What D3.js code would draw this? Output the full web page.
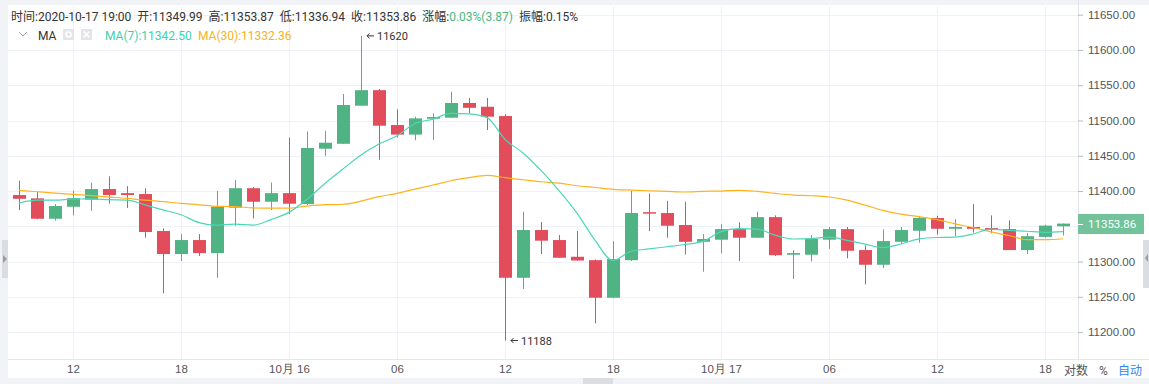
<!DOCTYPE html>
<html>
<head>
<meta charset="utf-8">
<script src="https://cdn.jsdelivr.net/npm/d3@7"></script>
<style>
  body { margin: 0; background: #fff; overflow: hidden; }
  svg { display: block; font-family: Roboto, "Noto Sans CJK SC", sans-serif; }
</style>
</head>
<body>
<script>
const width = 1149;
const height = 384;

// hourly candles, 2020-10-15 09:00 .. 2020-10-17 19:00
const startTime = new Date(2020, 9, 15, 9);
const opens = [11394.3, 11389.6, 11360.7, 11377.7, 11387.7, 11402.8, 11397, 11395.7, 11343.3, 11310.7,
  11330.5, 11312, 11376.4, 11404, 11384.8, 11397, 11381.6, 11460, 11467, 11521,
  11543, 11493.6, 11480, 11502.5, 11504, 11524.8, 11519.5, 11506.3, 11277, 11344.7,
  11330.5, 11306.8, 11302, 11248.7, 11302, 11370, 11368.8, 11351.8, 11328, 11331,
  11346, 11333.8, 11363, 11309.7, 11309.7, 11331, 11346, 11316.3, 11295.5, 11328,
  11343.7, 11361.7, 11346.5, 11349, 11347.5, 11346, 11316.3, 11335, 11349.99];
const highs = [11414.6, 11399, 11381.6, 11400.4, 11411.8, 11420.8, 11407, 11403.8, 11347, 11339,
  11339, 11400, 11415.6, 11405.7, 11412, 11476, 11484.6, 11485.5, 11537.6, 11620,
  11544.6, 11515.8, 11505.4, 11510, 11540.8, 11532, 11532, 11509, 11370.6, 11356,
  11337.6, 11343.3, 11303, 11329, 11400.4, 11396.6, 11386, 11384.8, 11339, 11353,
  11355.6, 11370.6, 11365.5, 11316.3, 11337.6, 11349, 11349, 11323, 11345.7, 11349,
  11364.5, 11365, 11360, 11381.6, 11365.5, 11358.4, 11340.4, 11352, 11353.87];
const lows = [11373, 11360, 11358, 11365.5, 11372, 11382, 11376, 11333.8, 11255, 11300.7,
  11308, 11277, 11350.8, 11361.3, 11373, 11367.4, 11380, 11450, 11467, 11521,
  11444.4, 11476, 11472, 11472, 11504, 11510, 11486.5, 11188, 11261, 11310.7,
  11305.4, 11301.2, 11212.4, 11248, 11300.7, 11343.3, 11333.8, 11310, 11285.6, 11311.6,
  11300.7, 11333.8, 11308, 11275.2, 11300, 11318, 11304.6, 11267.7, 11291, 11324.8,
  11326.7, 11338, 11335.8, 11341, 11340, 11316.3, 11310.7, 11334, 11336.94];
const closes = [11389, 11360.7, 11378.7, 11390, 11402.8, 11394.3, 11394.3, 11341.9, 11310.7, 11330.5,
  11312, 11377.7, 11404, 11384.8, 11397, 11382, 11461, 11468.5, 11522, 11543,
  11492.6, 11480, 11503, 11505, 11524.8, 11518, 11505.4, 11277, 11344.7, 11329.6,
  11305.4, 11301.5, 11248.7, 11303.6, 11368.8, 11368, 11350.8, 11328, 11332, 11346,
  11333.8, 11363, 11309, 11312, 11332, 11346, 11315.3, 11295.5, 11329, 11344.7,
  11362, 11346.5, 11349, 11346.5, 11344.7, 11316.3, 11336, 11351, 11353.86];

// MA(7) before enough candles are in view
const ma7Head = [11383, 11387, 11387, 11388.7, 11389, 11387.7];
// MA(30)
const ma30 = [11401, 11399, 11397, 11395.3, 11393.5, 11391.5, 11389.5, 11387, 11385, 11382.5,
  11380.5, 11378.3, 11378, 11376, 11375.7, 11375.7, 11378.7, 11380.6, 11381.1, 11385.8,
  11392, 11396.7, 11402.8, 11408.5, 11414.6, 11418.9, 11422.2, 11418.9, 11416, 11413.2,
  11411.3, 11407.5, 11405, 11402.4, 11401.4, 11400.4, 11399.5, 11398.6, 11399.5, 11400,
  11401, 11399.5, 11396.7, 11394.3, 11393.3, 11391.5, 11387, 11380, 11372.5, 11367.2,
  11363.6, 11359.4, 11353.5, 11348.3, 11342, 11337, 11331, 11331, 11332.36];

const priceTicks = [11200, 11250, 11300, 11350, 11400, 11450, 11500, 11550, 11600, 11650];
const timeTicks = [
  [new Date(2020, 9, 15, 12), "12"], [new Date(2020, 9, 15, 18), "18"],
  [new Date(2020, 9, 16, 0), "10月 16"], [new Date(2020, 9, 16, 6), "06"],
  [new Date(2020, 9, 16, 12), "12"], [new Date(2020, 9, 16, 18), "18"],
  [new Date(2020, 9, 17, 0), "10月 17"], [new Date(2020, 9, 17, 6), "06"],
  [new Date(2020, 9, 17, 12), "12"], [new Date(2020, 9, 17, 18), "18"]
];

const green = "#4fb383";
const red = "#e34c5b";
const tealLine = "#4dd6b6";
const orangeLine = "#fdb320";

const data = opens.map((o, i) => ({
  t: d3.timeHour.offset(startTime, i),
  o: o, h: highs[i], l: lows[i], c: closes[i]
}));
data.forEach((d, i) => {
  d.ma7 = i < 6 ? ma7Head[i] : d3.mean(closes.slice(i - 6, i + 1));
  d.ma30 = ma30[i];
});
const last = data[data.length - 1];

const plot = { left: 8, right: 1078, top: 6, bottom: 359 };

const x = d3.scaleTime()
  .domain([startTime, last.t])
  .range([19, 1063]);
const y = d3.scaleLinear()
  .domain([11200, 11650])
  .range([332.1, 14.7]);

const svg = d3.select("body").append("svg")
  .attr("width", width)
  .attr("height", height);

// frame bits
svg.append("rect").attr("x", 0).attr("y", 0).attr("width", width).attr("height", 5).attr("fill", "#f2f3f6");
svg.append("rect").attr("x", 0).attr("y", 378).attr("width", width).attr("height", 6).attr("fill", "#f2f3f6");
svg.append("rect").attr("x", 583).attr("y", 378).attr("width", 30).attr("height", 6).attr("fill", "#dcdde2");
svg.append("rect").attr("x", 0).attr("y", 0).attr("width", 8).attr("height", height).attr("fill", "#f2f3f6");
svg.append("rect").attr("x", 2).attr("y", 240).attr("width", 6).attr("height", 38).attr("fill", "#dcdde2");
svg.append("path").attr("d", "M3,255 L7,259 L3,263 Z").attr("fill", "#9a9ca3");
svg.append("rect").attr("x", 1143).attr("y", 240).attr("width", 6).attr("height", 48).attr("fill", "#dcdde2");
svg.append("path").attr("d", "M1148,254 L1145,258 L1148,262 Z").attr("fill", "#9a9ca3");

// grid
const grid = svg.append("g");
grid.selectAll(".hg").data(priceTicks).enter().append("line")
  .attr("x1", plot.left).attr("x2", plot.right)
  .attr("y1", d => Math.round(y(d)) + 0.5).attr("y2", d => Math.round(y(d)) + 0.5)
  .attr("stroke", "#eef1f6");
grid.selectAll(".vg").data(timeTicks).enter().append("line")
  .attr("x1", d => Math.round(x(d[0])) + 0.5).attr("x2", d => Math.round(x(d[0])) + 0.5)
  .attr("y1", plot.top).attr("y2", plot.bottom)
  .attr("stroke", "#eef1f6");

// axes (price labels hidden under the last-price box are dropped)
const ly = Math.round(y(last.c));
const yAxis = d3.axisRight(y)
  .tickValues(priceTicks.filter(v => Math.abs(y(v) - ly) > 14))
  .tickSize(5)
  .tickPadding(5)
  .tickFormat(d3.format(".2f"));
const gy = svg.append("g")
  .attr("transform", "translate(" + plot.right + ",0)")
  .call(yAxis);
gy.select(".domain").attr("stroke", "#e3e6ec").attr("d", "M0.5,0V" + plot.bottom);
gy.selectAll(".tick line").attr("stroke", "#b9bcc4");
gy.selectAll(".tick text").attr("fill", "#555").style("font-size", "11.5px");

const xAxis = d3.axisBottom(x)
  .tickValues(timeTicks.map(d => d[0]))
  .tickSize(0)
  .tickPadding(6)
  .tickFormat((d, i) => timeTicks[i][1]);
const gx = svg.append("g")
  .attr("transform", "translate(0," + plot.bottom + ")")
  .call(xAxis);
gx.select(".domain").attr("stroke", "#e3e6ec").attr("d", "M" + plot.left + ",0.5H" + width);
gx.selectAll(".tick text").attr("fill", "#555").style("font-size", "11.5px");

svg.append("text").attr("x", 1064).attr("y", 375).attr("fill", "#555").style("font-size", "12px").text("对数");
svg.append("text").attr("x", 1099).attr("y", 375).attr("fill", "#555").style("font-size", "12px").text("%");
svg.append("text").attr("x", 1118).attr("y", 375).attr("fill", "#2f86f0").style("font-size", "12px").text("自动");

// candles
svg.append("clipPath").attr("id", "clip")
  .append("rect").attr("x", plot.left).attr("y", plot.top)
  .attr("width", plot.right - plot.left).attr("height", plot.bottom - plot.top);
const area = svg.append("g").attr("clip-path", "url(#clip)");

const bw = 13;
const candles = area.selectAll(".candle").data(data).enter().append("g")
  .attr("fill", d => d.c >= d.o ? green : red)
  .attr("stroke", d => d.c >= d.o ? green : red);
candles.append("line")
  .attr("x1", d => Math.round(x(d.t)) + 0.5).attr("x2", d => Math.round(x(d.t)) + 0.5)
  .attr("y1", d => y(d.h)).attr("y2", d => y(d.l))
  .attr("stroke-width", 1);
candles.append("rect")
  .attr("stroke", "none")
  .attr("x", d => Math.round(x(d.t)) - (bw - 1) / 2)
  .attr("width", bw)
  .attr("y", d => y(Math.max(d.o, d.c)))
  .attr("height", d => Math.max(1.5, y(Math.min(d.o, d.c)) - y(Math.max(d.o, d.c))));

// MA lines
const line = key => d3.line().x(d => x(d.t)).y(d => y(d[key])).curve(d3.curveMonotoneX);
area.append("path").datum(data).attr("d", line("ma30"))
  .attr("fill", "none").attr("stroke", orangeLine).attr("stroke-width", 1.2);
area.append("path").datum(data).attr("d", line("ma7"))
  .attr("fill", "none").attr("stroke", tealLine).attr("stroke-width", 1.2);

// high / low markers
const hiIdx = d3.maxIndex(data, d => d.h);
const loIdx = d3.minIndex(data, d => d.l);
[[data[hiIdx], data[hiIdx].h], [data[loIdx], data[loIdx].l]].forEach(([d, v]) => {
  const tx = x(d.t) + 5;
  const ty = y(v);
  svg.append("path")
    .attr("d", "M" + (tx + 8) + "," + ty + "H" + (tx + 1) + "M" + (tx + 3.5) + "," + (ty - 2.5) + "L" + (tx + 1) + "," + ty + "L" + (tx + 3.5) + "," + (ty + 2.5))
    .attr("fill", "none").attr("stroke", "#333").attr("stroke-width", 1);
  svg.append("text").attr("x", tx + 11).attr("y", ty + 4)
    .attr("fill", "#333").style("font-size", "11px").text(d3.format("d")(v));
});

// last price label
svg.append("rect").attr("x", plot.right).attr("y", ly - 10).attr("width", 66).attr("height", 20).attr("fill", "#72c39b");
svg.append("line").attr("x1", plot.right).attr("x2", plot.right + 5).attr("y1", ly + 0.5).attr("y2", ly + 0.5).attr("stroke", "#fff");
svg.append("text").attr("x", plot.right + 10).attr("y", ly + 4).attr("fill", "#fff")
  .style("font-size", "11.5px").text(d3.format(".2f")(last.c));

// header info
const fmt = d3.format(".2f");
const change = last.c - last.o;
const header = svg.append("text").attr("x", 11).attr("y", 21).style("font-size", "12px").attr("fill", "#333");
[
  ["时间:" + d3.timeFormat("%Y-%m-%d %H:%M")(last.t) + "  ", "#333"],
  ["开:" + fmt(last.o) + "  ", "#333"],
  ["高:" + fmt(last.h) + "  ", "#333"],
  ["低:" + fmt(last.l) + "  ", "#333"],
  ["收:" + fmt(last.c) + "  ", "#333"],
  ["涨幅:", "#333"],
  [fmt(change / last.o * 100) + "%(" + fmt(change) + ")  ", "#4db77f"],
  ["振幅:" + fmt((last.h - last.l) / last.o * 100) + "%", "#333"]
].forEach(([s, c]) => header.append("tspan").attr("fill", c).attr("xml:space", "preserve").text(s));

svg.append("path").attr("d", "M19,32 L23,36 L27,32").attr("fill", "none").attr("stroke", "#aaa");
svg.append("text").attr("x", 38).attr("y", 40).style("font-size", "12px").attr("fill", "#333").text("MA");
svg.append("rect").attr("x", 63).attr("y", 29).attr("width", 11).attr("height", 11).attr("fill", "#e4e5e8");
svg.append("circle").attr("cx", 68.5).attr("cy", 34.5).attr("r", 2.5).attr("fill", "none").attr("stroke", "#fff").attr("stroke-width", 1.5);
svg.append("rect").attr("x", 81).attr("y", 29).attr("width", 11).attr("height", 11).attr("fill", "#e4e5e8");
svg.append("path").attr("d", "M83.5,31.5 L89.5,37.5 M89.5,31.5 L83.5,37.5").attr("stroke", "#fff").attr("stroke-width", 1.5);
svg.append("text").attr("x", 105).attr("y", 40).style("font-size", "12px").attr("fill", "#3fcfae")
  .text("MA(7):" + fmt(last.ma7 + 0.02));
svg.append("text").attr("x", 198).attr("y", 40).style("font-size", "12px").attr("fill", "#f7b21c")
  .text("MA(30):" + fmt(last.ma30));
</script>
</body>
</html>
